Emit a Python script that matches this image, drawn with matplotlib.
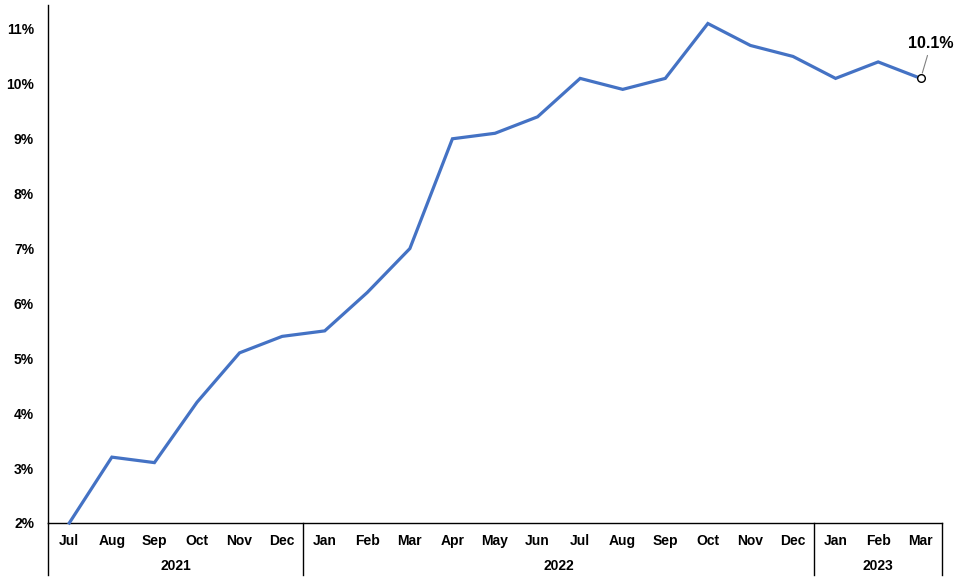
import matplotlib.pyplot as plt
import matplotlib.transforms as mtransforms

plt.rcParams['font.family'] = ['Liberation Sans', 'DejaVu Sans']

months = ['Jul', 'Aug', 'Sep', 'Oct', 'Nov', 'Dec',
          'Jan', 'Feb', 'Mar', 'Apr', 'May', 'Jun', 'Jul', 'Aug', 'Sep', 'Oct', 'Nov', 'Dec',
          'Jan', 'Feb', 'Mar']
years = ['2021', '2022', '2023']
year_counts = [6, 12, 3]
values = [2.0, 3.2, 3.1, 4.2, 5.1, 5.4,
          5.5, 6.2, 7.0, 9.0, 9.1, 9.4, 10.1, 9.9, 10.1, 11.1, 10.7, 10.5,
          10.1, 10.4, 10.1]

W, H = 959, 579
fig = plt.figure(figsize=(W / 100, H / 100), dpi=100)
ax = fig.add_axes([48 / W, (H - 523) / H, (942 - 48) / W, (523 - 5) / H])

x = list(range(len(values)))
ax.plot(x, values, color='#4472C4', lw=2.3, solid_joinstyle='miter', clip_on=False, zorder=3)
ax.plot(x[-1], values[-1], 'o', ms=5.5, mfc='white', mec='black', mew=1.0, zorder=4, clip_on=False)
ax.annotate(f'{values[-1]:.1f}%', xy=(x[-1], values[-1]), xytext=(x[-1] + 0.24, values[-1] + 0.63),
            ha='center', va='center', fontsize=11.5, fontweight='bold',
            arrowprops=dict(arrowstyle='-', color='#808080', lw=0.8, shrinkA=1, shrinkB=4))

ax.set_xlim(-0.5, len(values) - 0.5)
ax.set_ylim(2, 11 + 24 / 54.9)
ax.set_yticks(range(2, 12))
ax.set_yticklabels([f'{v}%' for v in range(2, 12)], fontsize=10, fontweight='bold')
ax.tick_params(axis='y', length=0, pad=10)
ax.set_xticks([])

for s in ['top', 'right']:
    ax.spines[s].set_visible(False)
for s in ['left', 'bottom']:
    ax.spines[s].set_linewidth(1.0)

# month labels, year group labels and separators below the axis
trans = mtransforms.blended_transform_factory(ax.transData, ax.transAxes)
for i, m in zip(x, months):
    ax.text(i, -18 / 518, m, transform=trans, ha='center', va='center',
            fontsize=10, fontweight='bold')
yb = -52 / 518
start = -0.5
bounds = [start]
for yr, n in zip(years, year_counts):
    ax.text(start + n / 2, -43 / 518, yr, transform=trans, ha='center', va='center',
            fontsize=10, fontweight='bold')
    start += n
    bounds.append(start)
for b in bounds:
    ax.plot([b, b], [0, yb], transform=trans, color='black', lw=1.0, clip_on=False)

fig.savefig('out.png', dpi=100)
